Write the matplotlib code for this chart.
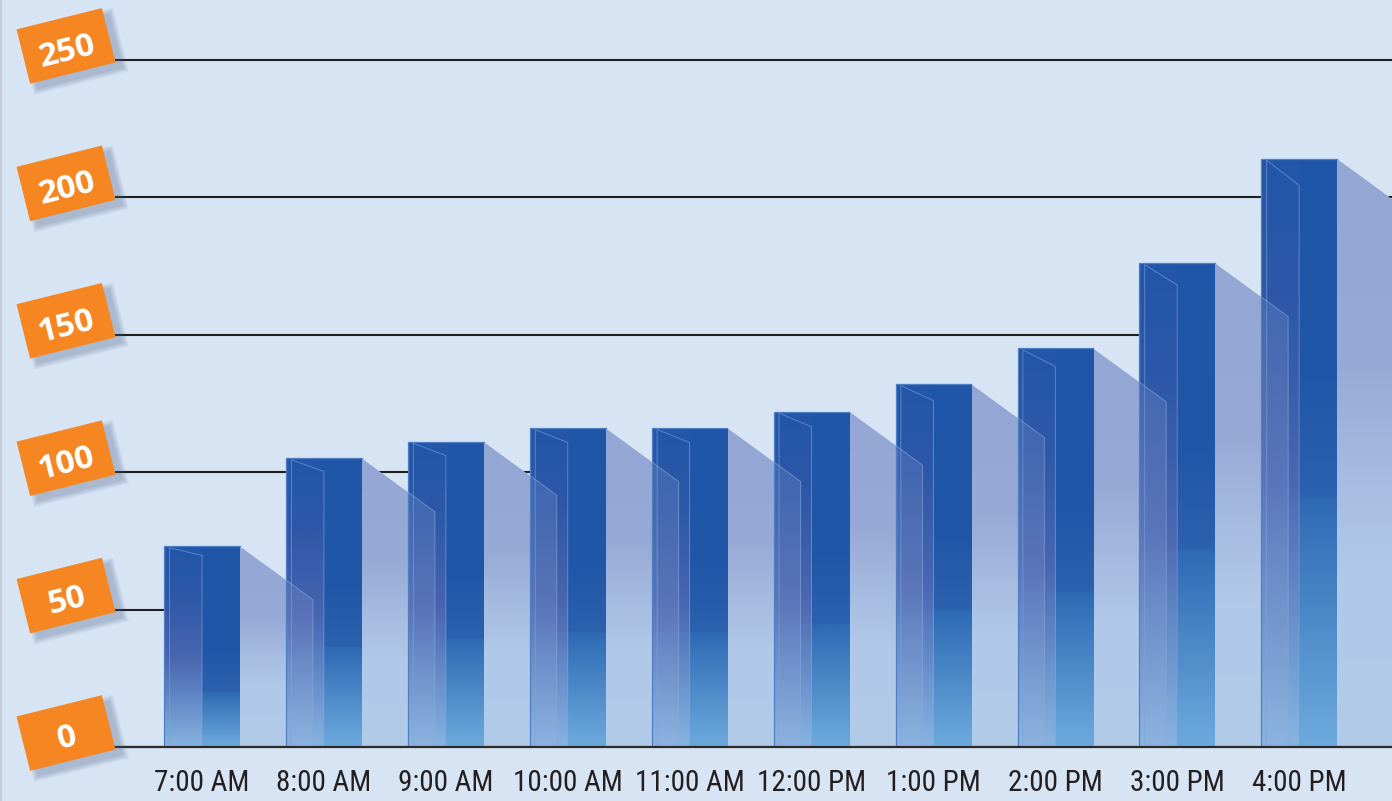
import numpy as np
import matplotlib
matplotlib.use('Agg')
import matplotlib.pyplot as plt
from matplotlib import font_manager
from matplotlib.colors import LinearSegmentedColormap
from matplotlib.patches import Polygon, Rectangle
from matplotlib.transforms import Affine2D, ScaledTranslation, offset_copy
from matplotlib.lines import Line2D

# data
hours = ['7:00 AM', '8:00 AM', '9:00 AM', '10:00 AM', '11:00 AM',
         '12:00 PM', '1:00 PM', '2:00 PM', '3:00 PM', '4:00 PM']
counts = [73, 105, 111, 116, 116, 122, 132, 145, 176, 214]
y_ticks = [0, 50, 100, 150, 200, 250]

BG = '#d7e4f4'
ORANGE = '#f58621'


def pick_narrow():
    # look for a condensed sans among installed fonts
    cands = []
    for f in font_manager.fontManager.ttflist:
        nm = f.name.lower()
        narrow = ('narrow' in nm or 'condensed' in nm or 'cond' in f.fname.lower()
                  or str(f.stretch) in ('condensed', 'semi-condensed', '75', '87'))
        if narrow and f.style == 'normal' and str(f.weight) in ('400', 'normal', 'regular'):
            pri = 0 if 'liberation' in nm else (1 if 'roboto' in nm else 2)
            if 'extra' in f.fname.lower() or 'semi' in f.fname.lower():
                pri += 3
            cands.append((pri, f.fname))
    if cands:
        cands.sort()
        return font_manager.FontProperties(fname=cands[0][1], size=21), True
    return font_manager.FontProperties(family='Liberation Sans', size=18), False


def bar_cmap_for(v):
    band = min(max(0.5 - 16.4 / v, 0.2), 0.6)
    return LinearSegmentedColormap.from_list('bar', [
        (0.0, '#6caadd'), (band - 0.005, '#2f6bb5'), (band + 0.005, '#2b61ae'),
        (min(band + 0.2, 0.95), '#2157a8'), (1.0, '#2056a8')])


strip_cmap = LinearSegmentedColormap.from_list('strip', [
    (0.0, '#8cb6e1'), (0.25, '#6a8cc8'), (0.45, '#5169b3'),
    (0.75, '#3159a8'), (1.0, '#2357a8')])
shadow_cmap = LinearSegmentedColormap.from_list('shadow', [
    (0.0, '#b1cbe9'), (0.3, '#b0c9e8'), (0.45, '#a6bce0'),
    (0.65, '#97a9d6'), (1.0, '#94a6d4')])
grad = np.linspace(0, 1, 256).reshape(-1, 1)

fig = plt.figure(figsize=(13.92, 8.01), dpi=100, facecolor=BG)
ax = fig.add_axes([115 / 1392, 54 / 801, 1277 / 1392, 747 / 801])
ax.set_facecolor(BG)

x = np.arange(len(hours))
width = 0.62
shadow_dx = 0.6
shadow_drop = 19.4

bars = ax.bar(x, counts, width=width, color='#2157a8', zorder=2)
rects = list(bars)

for i, (rect, v) in enumerate(zip(rects, counts)):
    x0 = rect.get_x()
    x1 = x0 + width
    # shadow to the right
    shp = Polygon([(x1, 0), (x1, v), (x1 + shadow_dx, v - shadow_drop),
                   (x1 + shadow_dx, 0)], closed=True, fc='none', ec='none')
    ax.add_patch(shp)
    im = ax.imshow(grad, cmap=shadow_cmap, origin='lower', aspect='auto',
                   extent=[x1, x1 + shadow_dx, 0, v], zorder=1.5,
                   interpolation='bilinear')
    im.set_clip_path(shp)

    # bar body gradient
    im = ax.imshow(grad, cmap=bar_cmap_for(v), origin='lower', aspect='auto',
                   extent=[x0, x1, 0, v], zorder=2.1, interpolation='bilinear')
    im.set_clip_path(rect)

    # front strip
    xs = x0 + 0.5 * width
    strip = Rectangle((x0, 0), xs - x0, v, fc='none', ec='none')
    ax.add_patch(strip)
    im = ax.imshow(grad, cmap=strip_cmap, origin='lower', aspect='auto',
                   extent=[x0, xs, 0, v], zorder=2.2, alpha=0.85,
                   interpolation='bilinear')
    im.set_clip_path(strip)

    # thin highlight lines
    xa = x0 + 0.07 * width
    drop = 0.045 * v
    ax.plot([xa, xa, xs, xs], [0, v - 0.5, v - drop, 0], color='#7ea4dc',
            lw=0.7, alpha=0.6, zorder=2.4)
    ax.plot([x0, x0, x1], [0, v, v], color='#4f80c6', lw=0.9, zorder=2.4)

    # previous shadow faintly over this bar
    if i > 0:
        pv = counts[i - 1]
        px1 = rects[i - 1].get_x() + width
        ov = Polygon([(px1, 0), (px1, pv), (px1 + shadow_dx, pv - shadow_drop),
                      (px1 + shadow_dx, 0)], closed=True, fc='#a8b6e0',
                     ec='none', alpha=0.18, zorder=2.3)
        ax.add_patch(ov)
        ov.set_clip_path(rect)
        ax.plot([x0, px1 + shadow_dx, px1 + shadow_dx],
                [pv - shadow_drop * (x0 - px1) / shadow_dx,
                 pv - shadow_drop, 0],
                color='#8aa8dc', lw=0.7, alpha=0.6, zorder=2.4)

ax.set_xlim(-0.714, 9.762)
ax.set_ylim(0, 271.8)

ax.set_axisbelow(True)
ax.set_yticks(y_ticks)
ax.yaxis.grid(True, color='#1f1f1f', lw=1.5)
ax.tick_params(axis='y', length=0, labelleft=False)
ax.set_xticks(x, hours)
xfont, is_narrow = pick_narrow()
ax.tick_params(axis='x', length=0, pad=16 if is_narrow else 18, labelcolor='#231f20')
for lbl in ax.get_xticklabels():
    lbl.set_fontproperties(xfont)
for s in ['top', 'right', 'left']:
    ax.spines[s].set_visible(False)
ax.spines['bottom'].set_color('#2a2a2a')
ax.spines['bottom'].set_linewidth(1.6)
ax.spines['bottom'].set_zorder(5)

# orange tilted value tags on the left
for t in y_ticks:
    anchor = ScaledTranslation(0, t, ax.get_yaxis_transform())
    base = Affine2D().rotate_deg(14).translate(-0.49, 0.14)
    for k in range(5):
        g = 0.012 * k
        sh = Rectangle((-0.44 - g + 0.06, -0.28 - g - 0.07), 0.88 + 2 * g, 0.56 + 2 * g,
                       fc='#4a5e80', ec='none', alpha=0.07, clip_on=False,
                       transform=base + fig.dpi_scale_trans + anchor, zorder=6)
        ax.add_patch(sh)
    box = Rectangle((-0.44, -0.28), 0.88, 0.56, fc=ORANGE, ec='none',
                    clip_on=False, transform=base + fig.dpi_scale_trans + anchor,
                    zorder=7)
    ax.add_patch(box)
    ax.text(0, t, str(t), color='white', fontsize=24, fontweight='bold',
            family=['Open Sans', 'DejaVu Sans'], rotation=14,
            rotation_mode='anchor', ha='center', va='center_baseline',
            transform=offset_copy(ax.get_yaxis_transform(), fig=fig,
                                  x=-49, y=12, units='dots'),
            clip_on=False, zorder=8)

fig.add_artist(Line2D([0.0006, 0.0006], [0, 1], transform=fig.transFigure,
                      color='#c9cdd2', lw=1.5))

fig.savefig('out.png', dpi=100, facecolor=BG)
